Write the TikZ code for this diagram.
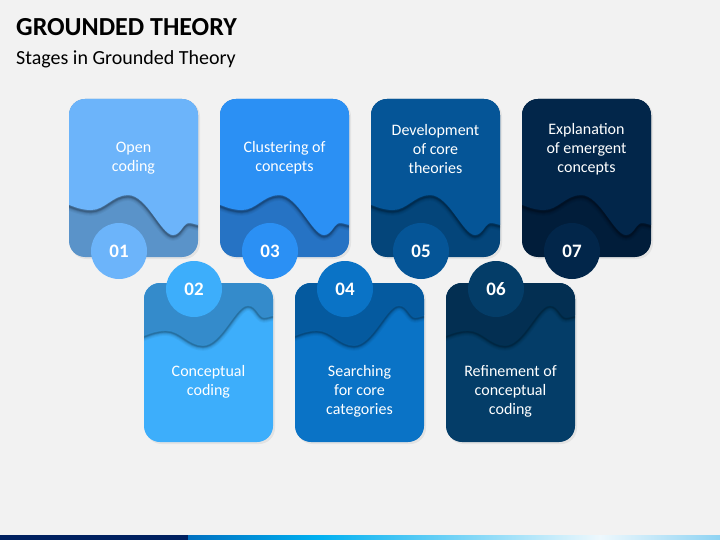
\documentclass[tikz,border=0pt]{standalone}
\usepackage{fontspec}
\setmainfont{Carlito}
\definecolor{bgc}{HTML}{F2F2F2}
\definecolor{ma}{HTML}{6CB4FA}\definecolor{da}{HTML}{5A93C9}
\definecolor{mb}{HTML}{3DAEFB}\definecolor{db}{HTML}{348BCB}
\definecolor{mc}{HTML}{2B90F4}\definecolor{dc}{HTML}{2673C4}
\definecolor{md}{HTML}{0A73C6}\definecolor{dd}{HTML}{055A9F}
\definecolor{me}{HTML}{055597}\definecolor{de}{HTML}{04457A}
\definecolor{mf}{HTML}{043D68}\definecolor{df}{HTML}{032F52}
\definecolor{mg}{HTML}{02264A}\definecolor{dg}{HTML}{011D3A}
\definecolor{navybar}{HTML}{002060}
\definecolor{barb}{HTML}{0070C0}
\definecolor{barc}{HTML}{00B0F0}
\definecolor{barw}{HTML}{EEF8FD}
\definecolor{barl}{HTML}{8ED3F3}
\tikzset{
  numcirc/.style={circle, minimum size=56pt, inner sep=0pt, text=white,
    font=\bfseries\fontsize{19}{22}\selectfont},
  cardtext/.style={text=white, align=center, inner sep=0pt,
    font=\fontsize{16}{19}\selectfont},
  wavesh/.style={black, line cap=round},
  cardsh/.style={black, opacity=0.06, rounded corners=16pt}
}
\newcommand{\topcard}[6]{%
  \begin{scope}[shift={(#1,99)}]
    \fill[cardsh] (1.5,1.5) rectangle (131,160);
    \fill[#3, rounded corners=16pt] (0,0) rectangle (129,158);
    \begin{scope}
      \clip[rounded corners=16pt] (0,0) rectangle (129,158);
      \foreach \w/\o in {8/0.04,6/0.05,4/0.07,2.5/0.1,1.2/0.14}{
        \draw[wavesh, opacity=\o, line width=\w pt, shift={(0,1.8)}]
          (-2,105) .. controls (8,109) and (14,111) .. (22,111)
          .. controls (36,111) and (44,96) .. (59,96)
          .. controls (78,96) and (92,136) .. (104,136)
          .. controls (112,136) and (114,124) .. (120,124)
          .. controls (124,124) and (127,126) .. (131,126);
      }
      \fill[#2] (-2,-1) -- (-2,105) .. controls (8,109) and (14,111) .. (22,111)
          .. controls (36,111) and (44,96) .. (59,96)
          .. controls (78,96) and (92,136) .. (104,136)
          .. controls (112,136) and (114,124) .. (120,124)
          .. controls (124,124) and (127,126) .. (131,126) -- (131,-1) -- cycle;
    \end{scope}
  \end{scope}
  \node[numcirc, fill=#2] (n#4) at (#1+50,251) {#4};
  \node[cardtext] (t#4) at (#1+64.5,#6) {#5};
}
\newcommand{\botcard}[6]{%
  \begin{scope}[shift={(#1,283)}]
    \fill[cardsh] (1.5,1.5) rectangle (131,161);
    \fill[#2, rounded corners=16pt] (0,0) rectangle (129,159);
    \begin{scope}
      \clip[rounded corners=16pt] (0,0) rectangle (129,159);
      \foreach \w/\o in {8/0.04,6/0.05,4/0.07,2.5/0.1,1.2/0.14}{
        \draw[wavesh, opacity=\o, line width=\w pt, shift={(0,1.8)}]
          (-2,53) .. controls (8,49) and (14,47) .. (22,47)
          .. controls (36,47) and (44,62) .. (59,62)
          .. controls (78,62) and (92,22) .. (104,22)
          .. controls (112,22) and (114,34) .. (120,34)
          .. controls (124,34) and (127,32) .. (131,32);
      }
      \fill[#3] (-2,-1) -- (-2,53) .. controls (8,49) and (14,47) .. (22,47)
          .. controls (36,47) and (44,62) .. (59,62)
          .. controls (78,62) and (92,22) .. (104,22)
          .. controls (112,22) and (114,34) .. (120,34)
          .. controls (124,34) and (127,32) .. (131,32) -- (131,-1) -- cycle;
    \end{scope}
  \end{scope}
  \node[numcirc, fill=#2] (n#4) at (#1+50,289) {#4};
  \node[cardtext] (t#4) at (#1+64.5,#6) {#5};
}
\begin{document}
\begin{tikzpicture}[x=1pt,y=-1pt]
\useasboundingbox (0,0) rectangle (720,540);
\fill[bgc] (0,0) rectangle (720,540);
\node[anchor=base west, inner sep=0pt, font=\bfseries\fontsize{26}{30}\selectfont] (title) at (16,36) {GROUNDED THEORY};
\node[anchor=base west, inner sep=0pt, font=\fontsize{20}{24}\selectfont] (sub) at (16,65) {Stages in Grounded Theory};
\topcard{69}{ma}{da}{01}{Open\\coding}{158}
\topcard{220}{mc}{dc}{03}{Clustering of\\concepts}{158}
\topcard{371}{me}{de}{05}{Development\\of core\\theories}{149}
\topcard{522}{mg}{dg}{07}{Explanation\\of emergent\\concepts}{149}
\botcard{144}{mb}{db}{02}{Conceptual\\coding}{381.5}
\botcard{295}{md}{dd}{04}{Searching\\for core\\categories}{391}
\botcard{446}{mf}{df}{06}{Refinement of\\conceptual\\coding}{391}
\fill[navybar] (0,535) rectangle (188,540);
\shade[left color=barb, right color=barc] (188,535) rectangle (318,540);
\shade[left color=barc, right color=barw] (318,535) rectangle (600,540);
\shade[left color=barw, right color=barl] (600,535) rectangle (720,540);
\end{tikzpicture}
\end{document}
